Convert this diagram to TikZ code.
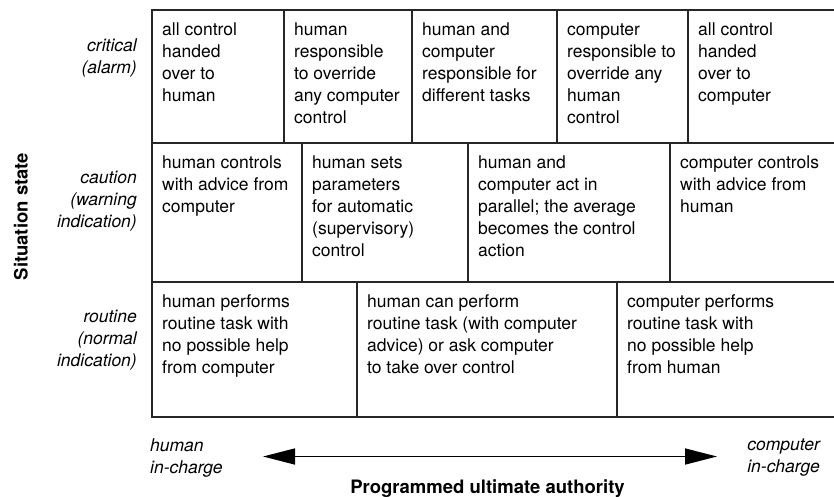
\documentclass[tikz,border=0pt]{standalone}
\usepackage{fontspec}
\setmainfont{TeX Gyre Heros}
\usetikzlibrary{arrows.meta}
\newcommand\lcol[1]{\begin{tabular}[t]{@{}l@{}}#1\end{tabular}}
\newcommand\rcol[1]{\begin{tabular}[t]{@{}r@{}}#1\end{tabular}}
\begin{document}
\begin{tikzpicture}[x=1pt,y=-1pt,
  gridline/.style={line width=1.1pt, black!85},
  celltext/.style={anchor=base west, inner sep=0pt, font=\fontsize{17.5}{22}\selectfont},
  rowlabel/.style={anchor=base east, inner sep=0pt, font=\fontsize{17.5}{22}\selectfont\itshape},
  axislabel/.style={inner sep=0pt, font=\fontsize{17.5}{22}\selectfont\itshape},
  titlelabel/.style={inner sep=0pt, font=\fontsize{18.5}{22}\selectfont\bfseries},
  bigarrow/.style={line width=1.5pt, {Triangle[length=32pt,width=16pt]}-{Triangle[length=32pt,width=16pt]}}
]
\useasboundingbox (0,0) rectangle (834,496);

% grid
\draw[gridline] (834,10) -- (152,10) -- (152,417) -- (834,417);
\draw[gridline] (152,143) -- (834,143);
\draw[gridline] (152,282) -- (834,282);
\foreach \x in {284,412,557,688} \draw[gridline] (\x,10) -- (\x,143);
\foreach \x in {302,468,670} \draw[gridline] (\x,143) -- (\x,282);
\foreach \x in {357,617} \draw[gridline] (\x,282) -- (\x,417);

% row 1
\node[celltext] (a1) at (162,35.5) {\lcol{all control\\handed\\over to\\human}};
\node[celltext] (a2) at (294,35.5) {\lcol{human\\responsible\\to override\\any computer\\control}};
\node[celltext] (a3) at (422,35.5) {\lcol{human and\\computer\\responsible for\\different tasks}};
\node[celltext] (a4) at (567,35.5) {\lcol{computer\\responsible to\\override any\\human\\control}};
\node[celltext] (a5) at (698,35.5) {\lcol{all control\\handed\\over to\\computer}};

% row 2
\node[celltext] (b1) at (162,168.5) {\lcol{human controls\\with advice from\\computer}};
\node[celltext] (b2) at (312,168.5) {\lcol{human sets\\parameters\\for automatic\\(supervisory)\\control}};
\node[celltext] (b3) at (478,168.5) {\lcol{human and\\computer act in\\parallel; the average\\becomes the control\\action}};
\node[celltext] (b4) at (680,168.5) {\lcol{computer controls\\with advice from\\human}};

% row 3
\node[celltext] (c1) at (162,307.5) {\lcol{human performs\\routine task with\\no possible help\\from computer}};
\node[celltext] (c2) at (367,307.5) {\lcol{human can perform\\routine task (with computer\\advice) or ask computer\\to take over control}};
\node[celltext] (c3) at (627,307.5) {\lcol{computer performs\\routine task with\\no possible help\\from human}};

% row labels
\node[rowlabel] (l1) at (137,51.5) {\rcol{critical\\(alarm)}};
\node[rowlabel] (l2) at (137,183.5) {\rcol{caution\\(warning\\indication)}};
\node[rowlabel] (l3) at (137,322) {\rcol{routine\\(normal\\indication)}};

\node[titlelabel, rotate=90, anchor=base] (ylab) at (27.5,216.5) {Situation state};

% axis
\node[axislabel, anchor=base west] (hum) at (150,451.5) {\lcol{human\\in-charge}};
\node[axislabel, anchor=base east] (comp) at (820,450) {\rcol{computer\\in-charge}};
\coordinate (aL) at (263,456.5);
\coordinate (aR) at (717,456.5);
\draw[bigarrow] (aL) -- (aR);
\node[titlelabel, anchor=base] (xlab) at (487.5,493) {Programmed ultimate authority};
\end{tikzpicture}
\end{document}
